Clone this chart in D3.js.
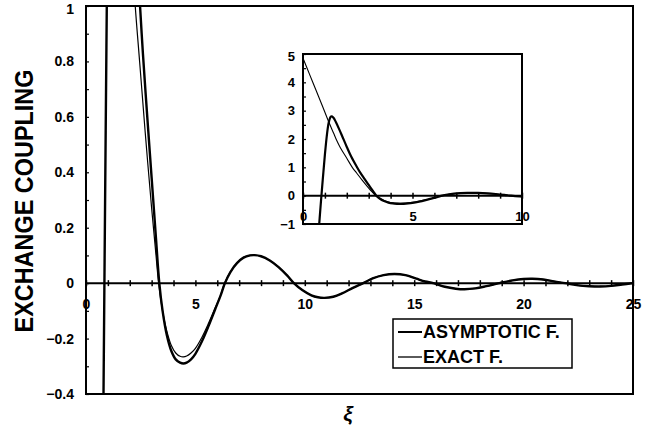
<!DOCTYPE html>
<html><head><meta charset="utf-8">
<script src="https://cdn.jsdelivr.net/npm/d3@7"></script>
<style>body{margin:0;background:#fff}svg{display:block}text{font-family:"Liberation Sans",Arial,sans-serif;font-weight:bold;fill:#000}</style>
</head><body><svg id="c" width="665" height="439"></svg>
<script>
// ---- data ----
const asymX = [0.68,0.72,0.76,0.80,0.85,0.90,0.95,1.00,1.05,1.10,1.15,1.20,1.27,1.32,1.40,1.50,1.65,1.80,2.00,2.20,2.47,2.60,2.80,3.00,3.20,3.35,3.50,3.70,3.90,4.10,4.30,4.45,4.60,4.80,5.00,5.30,5.60,5.90,6.15,6.35,6.60,6.90,7.20,7.50,7.70,8.00,8.40,8.80,9.20,9.50,9.90,10.3,10.6,10.9,11.3,11.7,12.2,12.67,13.1,13.6,14.1,14.6,15.1,15.5,15.87,16.4,16.9,17.3,17.8,18.3,18.9,19.5,20.0,20.4,20.9,21.4,21.9,22.5,23.0,23.5,24.0,24.5,25.0];
const asymY = [-1.6,-1.2,-0.8,-0.4,0.08,0.55,1.0,1.45,1.85,2.2,2.48,2.66,2.79,2.8,2.74,2.6,2.35,2.08,1.72,1.38,1.0,0.83,0.6,0.38,0.16,0.0,-0.1,-0.19,-0.245,-0.275,-0.287,-0.29,-0.287,-0.275,-0.255,-0.21,-0.155,-0.095,-0.045,0.0,0.04,0.072,0.092,0.1,0.101,0.097,0.082,0.058,0.027,0.0,-0.026,-0.044,-0.051,-0.053,-0.049,-0.037,-0.017,0.0,0.017,0.029,0.033,0.029,0.016,0.006,0.0,-0.013,-0.02,-0.022,-0.019,-0.011,0.0,0.01,0.015,0.016,0.013,0.006,0.0,-0.008,-0.011,-0.012,-0.01,-0.005,0.0];
const exactX = [0.0,0.3,0.6,0.9,1.14,1.40,1.52,1.70,2.00,2.25,2.45,2.70,3.00,3.20,3.32,3.50,3.70,3.90,4.10,4.30,4.45,4.60,4.80,5.00,5.30,5.60,5.90,6.15,6.33,6.60,6.90,7.20,7.50,7.70,8.00,8.40,8.80,9.20,9.50,9.90,10.3,10.6,10.9,11.3,11.7,12.2,12.67,13.1,13.6,14.1,14.6,15.1,15.5,15.87,16.4,16.9,17.3,17.8,18.3,18.9,19.5,20.0,20.4,20.9,21.4,21.9,22.5,23.0,23.5,24.0,24.5,25.0];
const exactY = [4.85,4.28,3.71,3.14,2.67,2.2,1.98,1.7,1.32,1.0,0.8,0.55,0.27,0.1,0.0,-0.1,-0.175,-0.225,-0.252,-0.264,-0.266,-0.263,-0.252,-0.235,-0.195,-0.145,-0.09,-0.044,0.0,0.041,0.073,0.093,0.1,0.101,0.097,0.082,0.058,0.027,0.0,-0.026,-0.044,-0.051,-0.053,-0.049,-0.037,-0.017,0.0,0.017,0.029,0.033,0.029,0.016,0.006,0.0,-0.013,-0.02,-0.022,-0.019,-0.011,0.0,0.01,0.015,0.016,0.013,0.006,0.0,-0.008,-0.011,-0.012,-0.01,-0.005,0.0];
const mainXTicks = d3.range(0, 26, 1);
const mainXLabels = [0,5,10,15,20,25];
const mainYTicks = d3.range(-4, 11, 1).map(v => v/10);
const mainYLabels = [-0.4,-0.2,0,0.2,0.4,0.6,0.8,1];
const insetXTicks = d3.range(0, 11, 1);
const insetXLabels = [0,5,10];
const insetYTicks = d3.range(-2, 11, 1).map(v => v/2);
const insetYLabels = [-1,0,1,2,3,4,5];
const legendNames = ["ASYMPTOTIC F.", "EXACT F."];

const asym = asymX.map((x,i)=>[x, asymY[i]]);
const exact = exactX.map((x,i)=>[x, exactY[i]]);
const svg = d3.select("#c");
const fmt = v => (v < 0 ? "\u2212" + Math.abs(v) : String(v));

function panel(opt){
  const {x, y, id, xTicks, xLabels, yTicks, yLabels, thick, thin, fs, ylPad, xlDy} = opt;
  const [x0,x1] = x.range(), [y1,y0] = y.range();
  const g = svg.append("g");
  g.append("rect").attr("x",x0).attr("y",y0).attr("width",x1-x0).attr("height",y1-y0).attr("fill","#fff");
  svg.append("clipPath").attr("id",id).append("rect").attr("x",x0).attr("y",y0).attr("width",x1-x0).attr("height",y1-y0);
  const line = d3.line().x(d=>x(d[0])).y(d=>y(d[1])).curve(d3.curveCatmullRom.alpha(0.5));
  const cg = g.append("g").attr("clip-path",`url(#${id})`);
  cg.append("path").datum(exact).attr("d",line).attr("fill","none").attr("stroke","#000").attr("stroke-width",thin);
  cg.append("path").datum(asym).attr("d",line).attr("fill","none").attr("stroke","#000").attr("stroke-width",thick);
  // y axis (left), inward ticks
  const ya = g.append("g").attr("transform",`translate(${x0},0)`)
    .call(d3.axisLeft(y).tickValues(yTicks).tickSizeInner(-3).tickSizeOuter(0).tickPadding(ylPad)
      .tickFormat(v => yLabels.some(l=>Math.abs(l-v)<1e-9) ? fmt(+v.toFixed(2)) : ""));
  ya.select(".domain").remove();
  ya.selectAll(".tick line").attr("stroke","#000").attr("stroke-width",1.2);
  ya.selectAll("text").style("font-size",fs+"px").style("font-family","Liberation Sans, Arial, sans-serif").style("font-weight","bold").attr("fill","#000")
    .attr("dy", d => (y(d) - y0 < 5 ? "0.5em" : "0.32em"));
  // x axis at zero, crossing ticks
  const xa = g.append("g").attr("transform",`translate(0,${y(0)})`)
    .call(d3.axisBottom(x).tickValues(xTicks).tickSizeInner(3).tickSizeOuter(0)
      .tickFormat(v => xLabels.includes(v) ? String(v) : ""));
  xa.select(".domain").attr("stroke","#000").attr("stroke-width",2).attr("d",`M${x0},0H${x1}`);
  xa.selectAll(".tick line").attr("y1",-3).attr("y2",3).attr("stroke","#000").attr("stroke-width",1.5);
  xa.selectAll("text").attr("y",xlDy).attr("dy","0.35em").style("font-size",fs+"px").style("font-family","Liberation Sans, Arial, sans-serif").style("font-weight","bold").attr("fill","#000");
  // frame
  g.append("rect").attr("x",x0).attr("y",y0).attr("width",x1-x0).attr("height",y1-y0).attr("fill","none").attr("stroke","#000").attr("stroke-width",2);
  return g;
}

// main
const xM = d3.scaleLinear().domain([0,25]).range([86,633]);
const yM = d3.scaleLinear().domain([-0.4,1]).range([394,6]);
panel({x:xM, y:yM, id:"cm", xTicks:mainXTicks, xLabels:mainXLabels, yTicks:mainYTicks, yLabels:mainYLabels, thick:2.4, thin:1.2, fs:14, ylPad:12, xlDy:21});

// inset
const xI = d3.scaleLinear().domain([0,10]).range([303,522]);
const yI = d3.scaleLinear().domain([-1,5]).range([224,54]);
panel({x:xI, y:yI, id:"ci", xTicks:insetXTicks, xLabels:insetXLabels, yTicks:insetYTicks, yLabels:insetYLabels, thick:2.2, thin:1.1, fs:13, ylPad:8, xlDy:21});

// legend
const lg = svg.append("g");
lg.append("rect").attr("x",393).attr("y",319).attr("width",179).attr("height",49).attr("fill","#fff").attr("stroke","#000").attr("stroke-width",1.5);
legendNames.forEach((n,i)=>{
  const yy = 332 + i*25;
  lg.append("line").attr("x1",398).attr("x2",422).attr("y1",yy).attr("y2",yy).attr("stroke","#000").attr("stroke-width", i===0?2:1.3);
  lg.append("text").attr("x",423).attr("y",yy).attr("dy","0.36em").style("font-size","18px").text(n);
});

// axis titles
svg.append("text").attr("transform","translate(33,201) rotate(-90)").attr("text-anchor","middle")
  .attr("textLength",263).attr("lengthAdjust","spacingAndGlyphs").style("font-size","26px").text("EXCHANGE COUPLING");
svg.append("text").attr("x",348).attr("y",421).attr("text-anchor","middle").style("font-size","21px").style("font-style","italic").text("ξ");
</script></body></html>
